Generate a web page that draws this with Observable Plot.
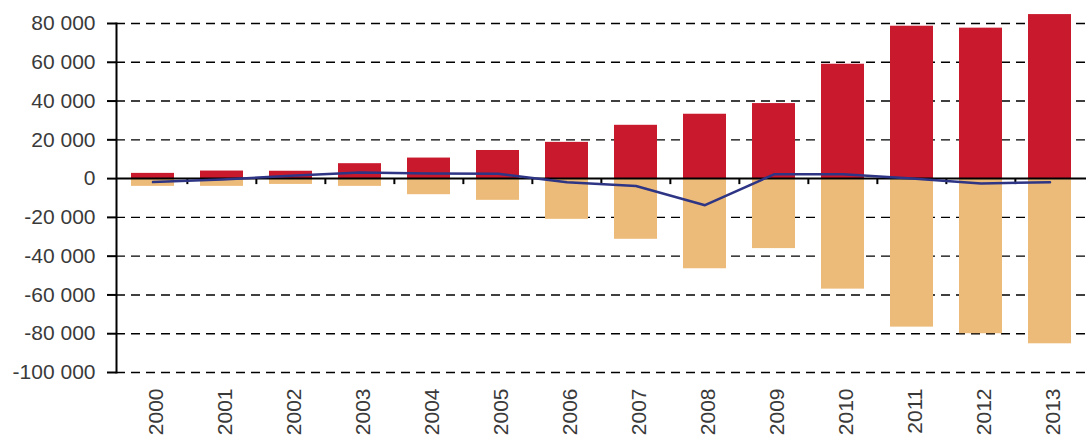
<!DOCTYPE html>
<html>
<head>
<meta charset="utf-8">
<script src="https://cdn.jsdelivr.net/npm/d3@7"></script>
<script src="https://cdn.jsdelivr.net/npm/@observablehq/plot@0.6"></script>
<style>
  html, body { margin: 0; padding: 0; background: #fff; }
  #chart svg { display: block; }
</style>
</head>
<body>
<div id="chart"></div>
<script>
const years = ["2000","2001","2002","2003","2004","2005","2006","2007","2008","2009","2010","2011","2012","2013"];
const positive = [2700, 3900, 3800, 7700, 10600, 14500, 18700, 27500, 33200, 38700, 59000, 78600, 77600, 84600];
const negative = [-4000, -4000, -3000, -4000, -8300, -11200, -21000, -31300, -46500, -36100, -57000, -76600, -80000, -85200];
const balance = [-1800, -500, 1500, 3200, 2700, 2500, -1900, -3800, -13700, 2200, 2200, 0, -2500, -1900];
const yTicks = [-100000, -80000, -60000, -40000, -20000, 0, 20000, 40000, 60000, 80000];

const W = 1086, H = 438, mL = 116, mR = 0, mT = 23, mB = 66;
const step = (W - mL - mR) / years.length;

const posData = years.map((y, i) => ({year: y, value: positive[i]}));
const negData = years.map((y, i) => ({year: y, value: negative[i]}));
const lineData = years.map((y, i) => ({year: y, value: balance[i]}));
const fmt = d => (d < 0 ? "-" : "") + d3.format(",")(Math.abs(d)).replace(/,/g, " ");

const chart = Plot.plot({
  width: W, height: H,
  marginLeft: mL, marginRight: mR, marginTop: mT, marginBottom: mB,
  style: {fontFamily: "'Liberation Sans', Arial, sans-serif", fontSize: "21px", color: "#3a3a3a", background: "#fff"},
  x: {type: "band", domain: years, paddingInner: 0.38, paddingOuter: 0.19, axis: null},
  y: {domain: [-100000, 80000], axis: null},
  marks: [
    Plot.ruleY(yTicks.filter(d => d !== 0), {stroke: "#000", strokeWidth: 1.4, strokeDasharray: "9,6"}),
    Plot.barY(posData, {x: "year", y: "value", fill: "#C8192D"}),
    Plot.barY(negData, {x: "year", y: "value", fill: "#EDBB79"}),
    Plot.ruleY([0], {stroke: "#000", strokeWidth: 2}),
    Plot.ruleX(years.slice(1), {x: d => d, y1: 0, y2: 0, insetBottom: -6, dx: -step / 2, stroke: "#000", strokeWidth: 2}),
    Plot.line(lineData, {x: "year", y: "value", stroke: "#2E3585", strokeWidth: 2.5}),
    Plot.frame({anchor: "left", stroke: "#000", strokeWidth: 2}),
    Plot.axisY({ticks: yTicks, tickFormat: fmt, tickSize: 9, tickPadding: 12, strokeWidth: 2, stroke: "#000", fill: "#3a3a3a", fontSize: 21, label: null}),
    Plot.axisX({tickRotate: -90, tickSize: 0, tickPadding: 16, dx: 3, fill: "#3a3a3a", fontSize: 21, label: null})
  ]
});
document.getElementById("chart").appendChild(chart);
</script>
</body>
</html>
